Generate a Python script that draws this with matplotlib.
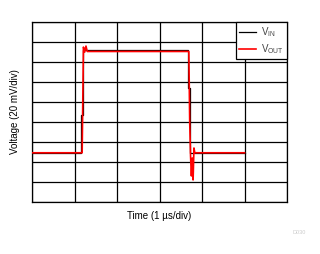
import matplotlib
matplotlib.use("Agg")
from matplotlib import pyplot as plt

plt.rcParams['font.family'] = ['Liberation Sans', 'DejaVu Sans']

# values in divisions (x: 1 us/div, y: 20 mV/div from the bottom edge)
vin_t = [0.0, 1.15, 1.15, 1.19, 1.19, 3.67, 3.67, 3.71, 3.71, 5.0]
vin_v = [2.47, 2.47, 4.35, 4.35, 7.62, 7.62, 5.7, 5.7, 2.47, 2.47]

vout_t = [0.0, 1.18, 1.21, 1.24, 1.27, 1.3, 3.69, 3.71, 3.73, 3.75, 3.77, 3.79, 3.81, 3.83, 5.0]
vout_v = [2.46, 2.46, 7.75, 7.5, 7.8, 7.53, 7.53, 4.0, 2.3, 1.3, 2.2, 1.1, 2.7, 2.46, 2.46]

fig = plt.figure(figsize=(3.2, 2.54), dpi=100)
ax = fig.add_axes([0.1, 0.205, 0.797, 0.708])

ax.plot(vin_t, vin_v, color='black', lw=0.9, label='V$_{\\mathregular{IN}}$', zorder=3)
ax.plot(vout_t, vout_v, color='red', lw=1.2, label='V$_{\\mathregular{OUT}}$', zorder=4)

ax.set_xlim(0, 6)
ax.set_ylim(0, 9)
ax.set_xticks(range(0, 7))
ax.set_yticks(range(0, 10))
ax.set_xticklabels([])
ax.set_yticklabels([])
ax.tick_params(length=0)
ax.grid(True, color='black', lw=0.9)
for s in ax.spines.values():
    s.set_linewidth(0.9)

ax.set_xlabel('Time (1 µs/div)', fontsize=7, labelpad=3)
ax.set_ylabel('Voltage (20 mV/div)', fontsize=7, labelpad=5)

leg = ax.legend(loc='upper right', borderaxespad=0, fancybox=False,
                framealpha=1, edgecolor='black', fontsize=7, handlelength=1.7,
                handletextpad=0.5, labelspacing=0.3, borderpad=0.35,
                labelcolor='#444444')
leg.get_frame().set_linewidth(0.9)

fig.text(0.955, 0.08, 'D030', fontsize=4, color='#cccccc', ha='right')

plt.savefig('out.png', dpi=100)
